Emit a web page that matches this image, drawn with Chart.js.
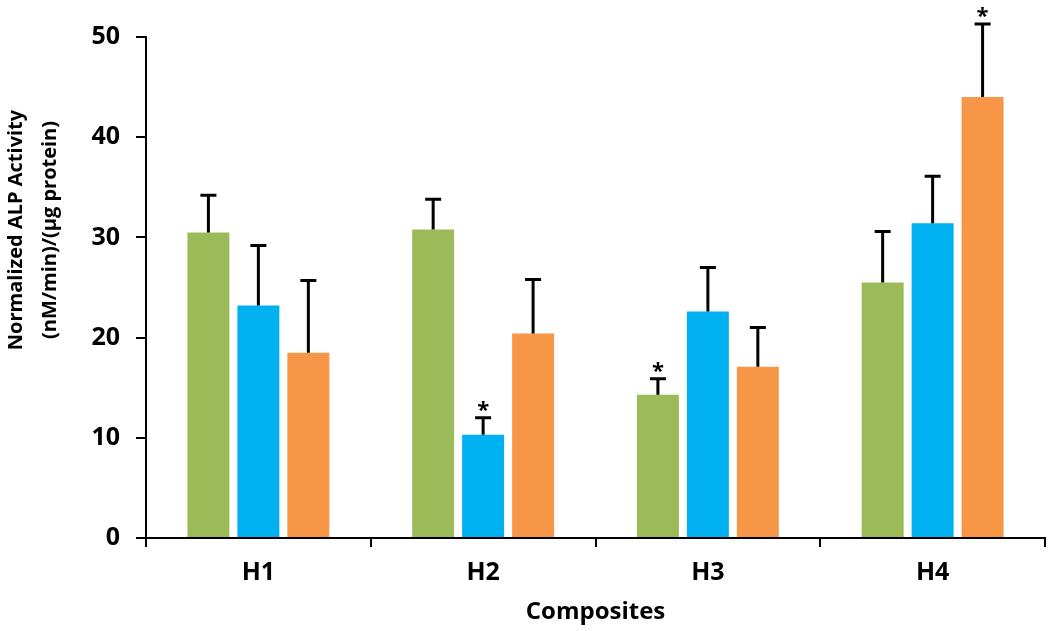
<!DOCTYPE html>
<html>
<head>
<meta charset="utf-8">
<script src="https://cdn.jsdelivr.net/npm/chart.js@4"></script>
<style>
  html, body { margin: 0; padding: 0; background: #fff; }
  #wrap { width: 1050px; height: 631px; }
</style>
</head>
<body>
<div id="wrap"><canvas id="alpChart"></canvas></div>
<script>
// Chart data
const categories = ['H1', 'H2', 'H3', 'H4'];
const greenVals  = [30.5, 30.8, 14.3, 25.5];
const greenErr   = [3.7, 3.0, 1.6, 5.1];
const blueVals   = [23.2, 10.3, 22.6, 31.4];
const blueErr    = [6.0, 1.7, 4.4, 4.7];
const orangeVals = [18.5, 20.4, 17.1, 44.0];
const orangeErr  = [7.2, 5.4, 3.9, 7.3];
// significance marks (true = asterisk above the error bar)
const greenSig  = [false, false, true, false];
const blueSig   = [false, true, false, false];
const orangeSig = [false, false, false, true];
const yTicks = [0, 10, 20, 30, 40, 50];
const yTitle = ['Normalized ALP Activity', '(nM/min)/(\u00B5g protein)'];

const FONT = "'Open Sans', sans-serif";

// Draw upward-only error bars plus asterisks
const errorBarPlugin = {
    id: 'errorBars',
    afterDatasetsDraw(chart) {
        const ctx = chart.ctx;
        const yScale = chart.scales.y;
        chart.data.datasets.forEach((ds, i) => {
            const meta = chart.getDatasetMeta(i);
            meta.data.forEach((bar, j) => {
                const top = yScale.getPixelForValue(ds.data[j] + ds.errors[j]);
                const base = yScale.getPixelForValue(ds.data[j]);
                ctx.save();
                ctx.strokeStyle = '#000';
                ctx.lineWidth = 3;
                ctx.beginPath();
                ctx.moveTo(bar.x, base);
                ctx.lineTo(bar.x, top);
                ctx.moveTo(bar.x - 8, top);
                ctx.lineTo(bar.x + 8, top);
                ctx.stroke();
                if (ds.sig[j]) {
                    ctx.fillStyle = '#000';
                    ctx.font = 'bold 22px ' + FONT;
                    ctx.textAlign = 'center';
                    ctx.textBaseline = 'bottom';
                    ctx.fillText('*', bar.x, top + 4);
                }
                ctx.restore();
            });
        });
    }
};

// Y-axis title sits above the plot middle in the reference, so draw it here
const yTitlePlugin = {
    id: 'yTitle',
    afterDraw(chart) {
        const ctx = chart.ctx;
        ctx.save();
        ctx.translate(0, 230);
        ctx.rotate(-Math.PI / 2);
        ctx.fillStyle = '#000';
        ctx.font = 'bold 20px ' + FONT;
        ctx.textAlign = 'center';
        ctx.textBaseline = 'middle';
        ctx.fillText(yTitle[0], 0, 16);
        ctx.fillText(yTitle[1], 0, 50);
        ctx.restore();
    }
};

const ctx = document.getElementById('alpChart').getContext('2d');

new Chart(ctx, {
    type: 'bar',
    data: {
        labels: categories,
        datasets: [
            { data: greenVals, errors: greenErr, sig: greenSig, backgroundColor: '#9BBB59' },
            { data: blueVals, errors: blueErr, sig: blueSig, backgroundColor: '#00B0F0' },
            { data: orangeVals, errors: orangeErr, sig: orangeSig, backgroundColor: '#F79646' }
        ]
    },
    options: {
        responsive: true,
        maintainAspectRatio: false,
        animation: false,
        datasets: {
            bar: { categoryPercentage: 0.667, barPercentage: 0.84 }
        },
        layout: { padding: { top: 37, right: 5, left: 0, bottom: 0 } },
        plugins: {
            legend: { display: false },
            tooltip: { enabled: false }
        },
        scales: {
            x: {
                afterFit: scale => { scale.height = 93; },
                border: { color: '#000', width: 2 },
                grid: {
                    offset: true,
                    drawOnChartArea: false,
                    color: '#000',
                    lineWidth: 2,
                    tickLength: 9
                },
                ticks: {
                    color: '#000',
                    padding: 11,
                    font: { family: FONT, size: 25, weight: 'bold' }
                },
                title: {
                    display: true,
                    text: 'Composites',
                    color: '#000',
                    padding: { top: 0 },
                    font: { family: FONT, size: 24, weight: 'bold' }
                }
            },
            y: {
                min: 0,
                max: 50,
                afterFit: scale => { scale.width = 146; },
                afterBuildTicks: scale => {
                    scale.ticks = yTicks.map(v => ({ value: v }));
                },
                border: { color: '#000', width: 2 },
                grid: {
                    drawOnChartArea: false,
                    color: '#000',
                    lineWidth: 2,
                    tickLength: 10
                },
                ticks: {
                    color: '#000',
                    padding: 16,
                    font: { family: FONT, size: 25, weight: 'bold' }
                },
                title: { display: false }
            }
        }
    },
    plugins: [errorBarPlugin, yTitlePlugin]
});
</script>
</body>
</html>
